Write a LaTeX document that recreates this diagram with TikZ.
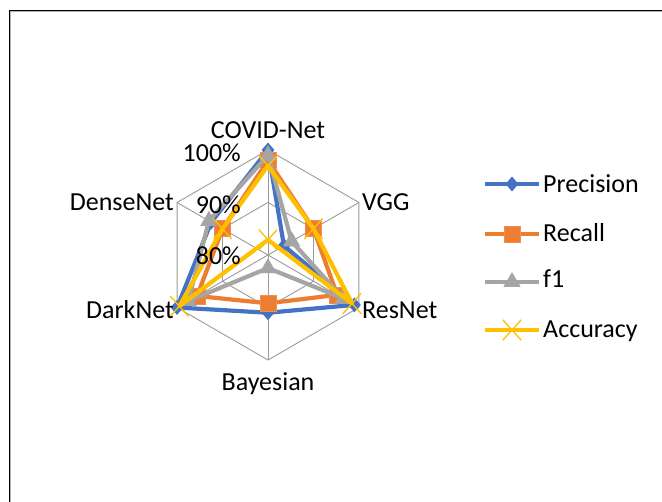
\documentclass[tikz,border=0pt]{standalone}
\usepackage{fontspec}
\setmainfont{Carlito}
\usetikzlibrary{shapes.geometric,shapes.misc}
\definecolor{cblue}{HTML}{4472C4}
\definecolor{corange}{HTML}{ED7D31}
\definecolor{cgray}{HTML}{A5A5A5}
\definecolor{cgold}{HTML}{FFC000}
\definecolor{cgrid}{HTML}{9A9A9A}
\tikzset{
  lbl/.style={inner sep=0pt, font=\fontsize{26}{31}\selectfont},
  gridline/.style={draw=cgrid, line width=0.9pt},
  series/.style={line width=4.2pt, line join=round, line cap=round},
  sprec/.style={series, draw=cblue},
  srec/.style={series, draw=corange},
  sfone/.style={series, draw=cgray},
  sacc/.style={series, draw=cgold},
  mprec/.style={diamond, fill=cblue, inner sep=0pt, minimum width=13pt, minimum height=15pt},
  mrec/.style={rectangle, fill=corange, draw=corange!85!white, line width=0.6pt, inner sep=0pt, minimum size=16pt},
  mfone/.style={regular polygon, regular polygon sides=3, fill=cgray, inner sep=0pt, minimum size=20pt},
  macc/.style={cross out, draw=cgold, line width=1.3pt, inner sep=0pt, minimum width=17pt, minimum height=19pt}
}
\begin{document}
\begin{tikzpicture}[x=1pt,y=-1pt]
\useasboundingbox (0,0) rectangle (662,502);
\fill[white] (0,0) rectangle (662,502);
% frame
\draw[black, line width=1.2pt] (9.5,502) -- (9.5,10.5) -- (662,10.5);
\draw[gray!60, line width=1pt] (10.8,502) -- (10.8,11.8) -- (662,11.8);

\begin{scope}[shift={(268,255)}]
  % grid
  \foreach \a in {-90,-30,30,90,150,210} \draw[gridline] (0,0) -- (\a:105);
  \draw[gridline] (-90:105) -- (-30:105) -- (30:105) -- (90:105) -- (150:105) -- (210:105) -- cycle;
  \draw[gridline] (-90:52.5) -- (-30:52.5) -- (30:52.5) -- (90:52.5) -- (150:52.5) -- (210:52.5) -- cycle;

  % Precision
  \foreach \r [count=\i] in {105,18.4,99.75,57.75,105,65.6}
    \coordinate (p\i) at ({-90+60*(\i-1)}:\r);
  \draw[sprec] (p1) -- (p2) -- (p3) -- (p4) -- (p5) -- (p6) -- cycle;
  \foreach \i in {1,...,6} \node[mprec] (pm\i) at (p\i) {};

  % Recall
  \foreach \r [count=\i] in {94.5,52.5,79.8,48.3,81.9,52.5}
    \coordinate (r\i) at ({-90+60*(\i-1)}:\r);
  \draw[srec] (r1) -- (r2) -- (r3) -- (r4) -- (r5) -- (r6) -- cycle;
  \foreach \i in {1,...,6} \node[mrec] (rm\i) at (r\i) {};

  % f1
  \foreach \r [count=\i] in {99.75,27.3,86.6,13.1,91.9,68.25}
    \coordinate (f\i) at ({-90+60*(\i-1)}:\r);
  \draw[sfone] (f1) -- (f2) -- (f3) -- (f4) -- (f5) -- (f6) -- cycle;
  \foreach \i in {1,...,6} \node[mfone] (fm\i) at (f\i) {};

  % Accuracy
  \foreach \r [count=\i] in {89.25,52.5,97.1,-15.2,102.4,52.5}
    \coordinate (a\i) at ({-90+60*(\i-1)}:\r);
  \draw[sacc] (a1) -- (a2) -- (a3) -- (a4) -- (a5) -- (a6) -- cycle;
  \foreach \i in {1,...,6} \node[macc] (am\i) at (a\i) {};
\end{scope}

% axis category labels
\node[lbl, anchor=base] (tcovid) at (268,139) {COVID-Net};
\node[lbl, anchor=base west] (tvgg) at (362,211) {VGG};
\node[lbl, anchor=base west] (tres) at (362,319) {ResNet};
\node[lbl, anchor=base] (tbay) at (268,391) {Bayesian};
\node[lbl, anchor=base east] (tdark) at (174,319) {DarkNet};
\node[lbl, anchor=base east] (tdense) at (174,211) {DenseNet};
% value labels
\node[lbl, anchor=base east] (v100) at (241,162) {100\%};
\node[lbl, anchor=base east] (v90) at (241,214) {90\%};
\node[lbl, anchor=base east] (v80) at (241,265) {80\%};

% legend
\coordinate (l1a) at (485,184); \coordinate (l1b) at (539,184);
\coordinate (l2a) at (485,234); \coordinate (l2b) at (539,234);
\coordinate (l3a) at (485,282); \coordinate (l3b) at (539,282);
\coordinate (l4a) at (485,330); \coordinate (l4b) at (539,330);
\draw[sprec, line cap=butt] (l1a) -- (l1b);
\node[mprec] (lm1) at (512,184) {};
\draw[srec, line cap=butt] (l2a) -- (l2b);
\node[mrec] (lm2) at (512,234) {};
\draw[sfone, line cap=butt] (l3a) -- (l3b);
\node[mfone] (lm3) at (512,282) {};
\draw[sacc, line cap=butt] (l4a) -- (l4b);
\node[macc] (lm4) at (512,330) {};
\node[lbl, anchor=base west] (lt1) at (543,193) {Precision};
\node[lbl, anchor=base west] (lt2) at (543,242) {Recall};
\node[lbl, anchor=base west] (lt3) at (543,288) {f1};
\node[lbl, anchor=base west] (lt4) at (543,338) {Accuracy};
\end{tikzpicture}
\end{document}
